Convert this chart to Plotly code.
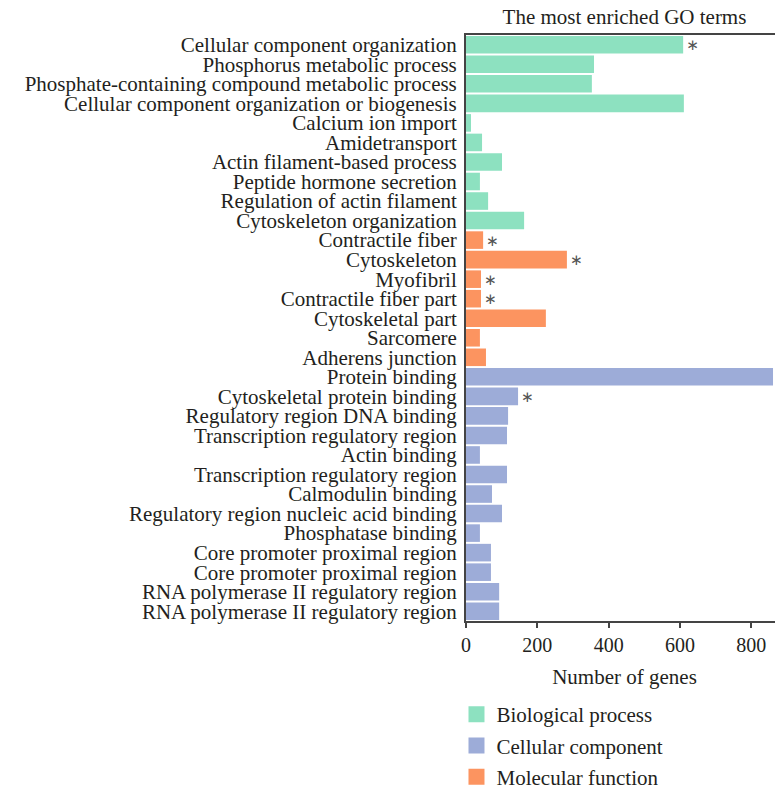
import plotly.graph_objects as go

labels = [
    "Cellular component organization",
    "Phosphorus metabolic process",
    "Phosphate-containing compound metabolic process",
    "Cellular component organization or biogenesis",
    "Calcium ion import",
    "Amidetransport",
    "Actin filament-based process",
    "Peptide hormone secretion",
    "Regulation of actin filament",
    "Cytoskeleton organization",
    "Contractile fiber",
    "Cytoskeleton",
    "Myofibril",
    "Contractile fiber part",
    "Cytoskeletal part",
    "Sarcomere",
    "Adherens junction",
    "Protein binding",
    "Cytoskeletal protein binding",
    "Regulatory region DNA binding",
    "Transcription regulatory region",
    "Actin binding",
    "Transcription regulatory region",
    "Calmodulin binding",
    "Regulatory region nucleic acid binding",
    "Phosphatase binding",
    "Core promoter proximal region",
    "Core promoter proximal region",
    "RNA polymerase II regulatory region",
    "RNA polymerase II regulatory region",
]
values = [609, 359, 353, 611, 14, 45, 101, 39, 62, 163,
          48, 283, 42, 42, 224, 39, 56,
          861, 146, 118, 115, 39, 115, 73, 101, 39, 70, 70, 93, 93]
groups = (["Biological process"] * 10 + ["Molecular function"] * 7
          + ["Cellular component"] * 13)
significant = [1, 0, 0, 0, 0, 0, 0, 0, 0, 0,
               1, 1, 1, 1, 0, 0, 0,
               1, 1, 0, 0, 0, 0, 0, 0, 0, 0, 0, 0, 0]
x_ticks = [0, 200, 400, 600, 800]

colors = {
    "Biological process": "#8DE1C0",
    "Cellular component": "#9DACD8",
    "Molecular function": "#FC9460",
}
legend_order = ["Biological process", "Cellular component", "Molecular function"]

FONT = "Liberation Serif"
TXT = "#231f20"

W, H = 775, 781          # the page adds an 8px body margin
TOP = 27                 # plot top (figure px)
PLOT_BOTTOM = 613        # plot bottom (figure px)
paper_h = H - TOP
dom_bottom = (H - PLOT_BOTTOM) / paper_h

fig = go.Figure()
for g in legend_order:
    idx = [i for i, gg in enumerate(groups) if gg == g]
    fig.add_trace(go.Bar(
        x=[values[i] for i in idx],
        y=[i for i in idx],
        orientation="h",
        name=g,
        legendgroup=g,
        showlegend=False,
        marker=dict(color=colors[g], line=dict(width=0)),
        text=["\u2217" if significant[i] else "" for i in idx],
        textposition="outside",
        textfont=dict(family="DejaVu Sans", size=19, color="#555"),
        cliponaxis=False,
        hoverinfo="x+name",
    ))
# legend entries (square swatches)
for g in legend_order:
    fig.add_trace(go.Scatter(
        x=[None], y=[None], mode="markers", name=g, legendgroup=g,
        marker=dict(symbol="square", size=19, color=colors[g], line=dict(width=0)),
        showlegend=True,
    ))

fig.update_layout(
    width=W, height=H,
    margin=dict(l=458, r=0, t=TOP, b=0, autoexpand=False),
    paper_bgcolor="white", plot_bgcolor="white",
    bargap=0.1,
    font=dict(family=FONT, color=TXT),
    title=dict(text="The most enriched GO terms", x=0.5, xref="paper",
               xanchor="center", y=1, yref="container", yanchor="top",
               pad=dict(t=1, b=0),
               font=dict(size=21, family=FONT, color=TXT)),
    legend=dict(x=-0.03, xanchor="left", y=-8 / paper_h, yanchor="bottom",
                font=dict(size=21, family=FONT, color=TXT),
                tracegroupgap=1, bgcolor="rgba(0,0,0,0)",
                itemsizing="trace"),
    showlegend=True,
)
fig.update_xaxes(
    range=[0, 889], tickvals=x_ticks, ticks="outside", ticklen=5,
    tickcolor="#444", tickwidth=1.5,
    showline=True, linecolor="#444", linewidth=2, mirror=True,
    showgrid=False, zeroline=False,
    tickfont=dict(size=20, family=FONT, color=TXT),
    title=dict(text="Number of genes", font=dict(size=21, family=FONT, color=TXT),
               standoff=14),
)
fig.update_yaxes(
    domain=[dom_bottom, 1],
    range=[29.5, -0.5], tickvals=list(range(len(labels))), ticktext=labels,
    ticks="", showline=True, linecolor="#444", linewidth=2,
    showgrid=False, zeroline=False, ticklabelstandoff=3,
    tickfont=dict(size=21, family=FONT, color=TXT),
)

fig.write_html("out.html")
